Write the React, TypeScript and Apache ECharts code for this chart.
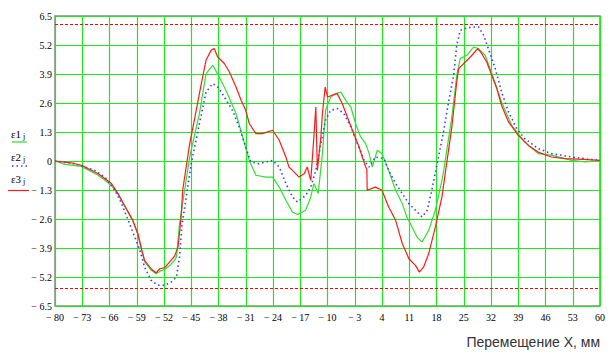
import React, { useEffect, useRef } from "react";
import * as echarts from "echarts";

// ε1 (green)
const e1X = [-80, -77.4, -73.2, -68.9, -65.5, -63.8, -61.7, -60, -58.7, -57.8, -57, -55.3, -54, -53.1, -51.8, -50.6, -49.3, -48.8, -48, -45.4, -42.9, -41.2, -39.5, -37.8, -36.1, -33.5, -31.8, -30.1, -28.4, -25.8, -24.1, -22.4, -20.7, -19, -17.7, -15.6, -14.3, -13.5, -12.4, -11.3, -10.5, -9.2, -7.9, -6.6, -5.3, -4, -2.8, -1.5, -0.2, 0.7, 1.5, 2.8, 4, 5.7, 7.5, 9.2, 10.4, 11.7, 13, 14.3, 16, 17.7, 19.4, 19.8, 22, 23.2, 24.1, 25.8, 27.5, 28.8, 30.5, 32.2, 34.7, 37.3, 40.7, 44.1, 47.5, 52.7, 56.1, 60];
const e1Y = [0, -0.15, -0.24, -0.64, -1.09, -1.5, -2.15, -2.7, -3.3, -3.95, -4.5, -4.9, -5.05, -4.95, -4.85, -4.7, -4.45, -4.3, -2.8, 0.18, 2.12, 3.92, 4.29, 3.77, 3.17, 2.13, 1.08, 0.03, -0.64, -0.72, -0.72, -1.17, -1.76, -2.29, -2.4, -2.21, -1.61, -1.01, -1.46, 0.33, 2.27, 2.87, 3.02, 3.09, 2.72, 2.42, 1.68, 1.08, 0.78, 0.33, -0.27, 0.48, 0.33, -0.42, -1.31, -1.91, -2.51, -2.96, -3.41, -3.63, -3.11, -2.21, -0.87, -0.49, 2.05, 3.84, 4.59, 4.74, 5.11, 5.04, 4.74, 3.92, 2.65, 1.6, 0.85, 0.33, 0.26, 0.03, -0.04, 0];

// ε2 (blue dotted)
const e2X = [-80, -74.9, -69.8, -67.2, -64.6, -62.9, -61.2, -59.5, -58.2, -57, -55.3, -53.6, -51.8, -50.1, -48.8, -48, -47.4, -45, -42.9, -41.2, -39.5, -38.2, -36.5, -34.4, -32.7, -31, -29.7, -27.6, -24.1, -22.4, -20.7, -19, -17.7, -15.6, -14.3, -13, -11.7, -10.5, -9.2, -7.5, -5.8, -4, -2.3, -0.6, 0.7, 2.3, 4.5, 5.7, 7.5, 9.2, 10.9, 12.6, 14.3, 15.6, 16.8, 18.5, 19.8, 21.1, 22.4, 23.2, 24.1, 25.4, 27.1, 28.8, 30.1, 31.3, 33.1, 34.7, 36.5, 38.6, 40.7, 44.1, 47.5, 52.7, 57, 60];
const e2Y = [0, -0.12, -0.42, -0.72, -1.31, -1.91, -2.66, -3.41, -4, -4.75, -5.35, -5.57, -5.57, -5.42, -5.2, -4.3, -2.9, -0.12, 1.68, 3.09, 3.47, 3.32, 2.87, 2.27, 1.53, 0.63, -0.04, -0.12, 0.03, -0.27, -1.01, -1.61, -1.84, -1.54, -1.17, -0.42, 0.78, 1.83, 2.27, 2.35, 2.13, 1.53, 0.78, 0.03, -0.27, 0.18, 0.11, -0.42, -1.01, -1.46, -1.91, -2.21, -2.51, -2.21, -1.31, 0.18, 1.3, 2.65, 3.84, 5.19, 5.86, 5.94, 6.01, 6.01, 5.64, 5.04, 4.14, 3.1, 2.2, 1.45, 1.0, 0.56, 0.33, 0.18, 0.08, 0.03];

// ε3 (red)
const e3X = [-80, -76, -73.2, -68.9, -65.5, -63.8, -61.7, -60, -58.7, -57.8, -57, -55.3, -54, -53.1, -51.8, -50.6, -49.3, -48.4, -47.6, -47.2, -45.4, -44.2, -42.5, -41.2, -39.9, -39.1, -38.2, -36.5, -35.2, -33.5, -32.2, -31, -30.1, -28.4, -26.7, -24.1, -22.4, -20.7, -19.9, -19, -17.3, -16, -15.2, -14.3, -13.5, -13, -12.6, -11.7, -11.3, -10.6, -10, -8.8, -7.5, -6.2, -4.9, -3.6, -1.9, -0.2, 0.1, 0.2, 2.3, 4, 5.7, 7.5, 9.2, 10.9, 12.6, 13.6, 14.7, 16, 17.7, 19.4, 20.3, 22, 23.2, 23.7, 25.4, 27.1, 28.6, 29.6, 30.9, 32.2, 33.5, 34.7, 36.5, 39, 41.6, 44.1, 47.5, 51, 54.4, 60];
const e3Y = [0, -0.08, -0.19, -0.57, -1.01, -1.46, -2.13, -2.66, -3.26, -3.93, -4.45, -4.83, -5.02, -4.83, -4.78, -4.53, -4.27, -3.86, -2.51, -1.31, 0.78, 1.83, 3.39, 4.52, 4.96, 5.04, 4.66, 4.37, 3.99, 3.32, 2.72, 2.27, 1.68, 1.23, 1.23, 1.38, 0.93, 0.18, -0.27, -0.42, -0.72, -0.57, -0.27, -0.87, 1.08, 2.42, -0.42, 1.08, 2.13, 3.32, 2.87, 2.95, 3.02, 2.57, 1.97, 1.38, 0.63, -0.27, -0.35, -1.31, -1.17, -1.31, -2.06, -2.66, -3.7, -4.38, -4.68, -4.98, -4.75, -4.15, -2.96, -1.61, -0.49, 1.6, 3.54, 4.14, 4.44, 4.74, 5.04, 4.82, 4.44, 3.84, 3.25, 2.5, 1.75, 1.15, 0.7, 0.4, 0.18, 0.11, 0.08, 0.03];

const upperLimit = 6.15;
const lowerLimit = -5.71;

const xTitle = "Перемещение X, мм";

const zip = (xs: number[], ys: number[]) => xs.map((x, i) => [x, ys[i]]);

const fmtNum = (v: number, digits: number) => {
  const r = Math.round(v * 10) / 10;
  if (Math.abs(r) < 1e-9) return "0";
  const s = digits > 0 ? Math.abs(r).toFixed(digits) : String(Math.abs(r));
  return r < 0 ? "\u2212 " + s : s;
};

export default function App() {
  const ref = useRef<HTMLDivElement>(null);
  useEffect(() => {
    document.body.style.margin = "0";
    if (!ref.current) return;
    const chart = echarts.init(ref.current, null, { renderer: "svg" });
    const serif = "Liberation Serif";
    const legendText = (idx: string, top: number) => ({
      type: "text",
      left: 11,
      top,
      style: {
        text: "{a|ε" + idx + "}{b|j}",
        rich: {
          a: { fontFamily: serif, fontSize: 11, fill: "#000" },
          b: { fontFamily: serif, fontSize: 8, fill: "#000", padding: [6, 0, 0, 2] },
        },
      },
    });
    chart.setOption({
      animation: false,
      backgroundColor: "#fff",
      grid: { left: 55, right: 5, top: 16, bottom: 47, show: true, borderColor: "#8a8a8a", borderWidth: 1.5, backgroundColor: "#fff" },
      xAxis: {
        type: "value",
        min: -80,
        max: 60,
        interval: 7,
        axisLine: { show: false },
        axisTick: { show: false },
        axisLabel: {
          fontFamily: serif,
          fontSize: 10,
          color: "#000",
          margin: 6,
          formatter: (v: number) => fmtNum(v, 0),
        },
        splitLine: { show: true, lineStyle: { color: "#1ee81e", width: 1.2 } },
      },
      yAxis: {
        type: "value",
        min: -6.5,
        max: 6.5,
        interval: 1.3,
        axisLine: { show: false },
        axisTick: { show: false },
        axisLabel: {
          fontFamily: serif,
          fontSize: 10,
          color: "#000",
          margin: 3,
          formatter: (v: number) => fmtNum(v, 1),
        },
        splitLine: { show: true, lineStyle: { color: "#1ee81e", width: 1.2 } },
      },
      series: [
        {
          name: "ε1",
          type: "line",
          data: zip(e1X, e1Y),
          symbol: "none",
          lineStyle: { color: "#33dd33", width: 1.2 },
        },
        {
          name: "ε2",
          type: "line",
          data: zip(e2X, e2Y),
          symbol: "none",
          lineStyle: { color: "#3b3bff", width: 1.6, type: [1.5, 3] },
        },
        {
          name: "ε3",
          type: "line",
          data: zip(e3X, e3Y),
          symbol: "none",
          lineStyle: { color: "#ff1a1a", width: 1.2 },
          markLine: {
            silent: true,
            symbol: "none",
            label: { show: false },
            lineStyle: { color: "#ff0000", width: 1, type: [3, 2] },
            data: [{ yAxis: upperLimit }, { yAxis: lowerLimit }],
          },
        },
      ],
      graphic: [
        legendText("1", 128),
        { type: "line", shape: { x1: 12, y1: 142, x2: 27, y2: 142 }, style: { stroke: "#33dd33", lineWidth: 1.2 } },
        legendText("2", 151),
        { type: "line", shape: { x1: 12, y1: 166, x2: 30, y2: 166 }, style: { stroke: "#3b3bff", lineWidth: 1.6, lineDash: [1.5, 3] } },
        legendText("3", 173),
        { type: "line", shape: { x1: 8, y1: 190.5, x2: 29, y2: 190.5 }, style: { stroke: "#ff1a1a", lineWidth: 1.2 } },
        {
          type: "text",
          right: 8,
          top: 335,
          style: { text: xTitle, fontFamily: "Liberation Sans", fontSize: 14, fill: "#333" },
        },
      ],
    });
    return () => chart.dispose();
  }, []);
  return <div ref={ref} style={{ width: 608, height: 353 }} />;
}
